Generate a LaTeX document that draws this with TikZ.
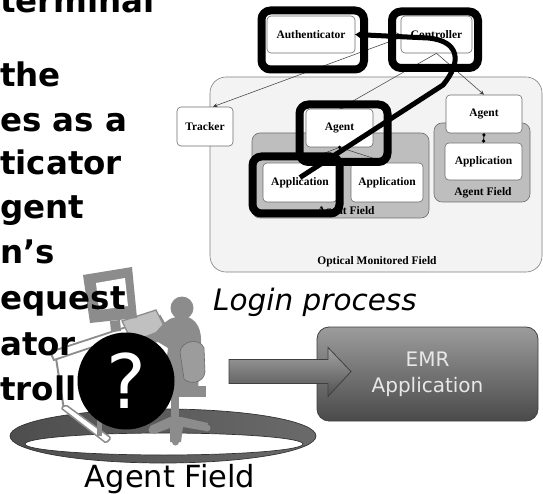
\documentclass[tikz,border=0pt]{standalone}
\usepackage{fontspec}
\setmainfont{DejaVu Sans}
\newfontfamily\diagserif{Liberation Serif}
\usetikzlibrary{arrows.meta,calc}

\definecolor{silgray}{HTML}{8C8C8C}
\definecolor{chairgray}{HTML}{9C9C9C}
\definecolor{fieldgray}{HTML}{BEBEBE}
\definecolor{outergray}{HTML}{F3F3F3}
\definecolor{edgegray}{HTML}{6E6E6E}
\definecolor{emrtop}{HTML}{9C9C9C}
\definecolor{emrbot}{HTML}{4A4A4A}
\definecolor{emrtext}{HTML}{E8E8E8}
\definecolor{arrowtop}{HTML}{A4A4A4}
\definecolor{arrowbot}{HTML}{505050}
\definecolor{ringdark}{HTML}{4E4E4E}
\definecolor{ringlight}{HTML}{C6C6C6}
\definecolor{ringmid}{HTML}{6A6A6A}

\begin{document}
\begin{tikzpicture}[x=1pt,y=-1pt,
  box/.style={draw=edgegray, fill=white, rounded corners=4pt, line width=0.6pt, inner sep=0pt,
    font=\diagserif\bfseries\fontsize{11.5}{13}\selectfont},
  agentfield/.style={draw=edgegray, fill=fieldgray, rounded corners=8pt, line width=0.6pt, inner sep=0pt},
  monitored/.style={draw=gray, fill=outergray, rounded corners=16pt, line width=0.6pt, inner sep=0pt},
  fieldlabel/.style={inner sep=0pt, font=\diagserif\bfseries\fontsize{11.5}{13}\selectfont},
  hilite/.style={draw=black, line width=8pt, rounded corners=9pt, inner sep=0pt},
  conn/.style={draw=black!75, line width=0.55pt, -{Stealth[length=4.5pt,width=4pt]}},
  link/.style={draw=black!75, line width=0.55pt},
  flow/.style={draw=black, line width=5pt, -{Triangle[length=9pt,width=12pt]}},
  slide/.style={anchor=base west, inner sep=0pt, font=\bfseries\fontsize{32.5}{39}\selectfont},
]
\useasboundingbox (0,0) rectangle (543,494);
\clip (0,0) rectangle (543,494);
\fill[white] (0,0) rectangle (543,494);

% ---------- system diagram ----------
\node[monitored, minimum width=332pt, minimum height=195pt] (optical) at (376,174.5) {};
\node[fieldlabel] (opticallabel) at (377,262) {Optical Monitored Field};

\node[agentfield, minimum width=177pt, minimum height=85pt] (midfield) at (340.5,175.5) {};
\node[fieldlabel] (midfieldlabel) at (346,212) {Agent Field};
\node[agentfield, minimum width=96pt, minimum height=79pt] (rightfield) at (482,162.5) {};
\node[fieldlabel] (rightfieldlabel) at (483,193) {Agent Field};

\node[box, minimum width=88pt, minimum height=37pt] (auth) at (311,34.5) {Authenticator};
\node[box, minimum width=71pt, minimum height=37pt] (ctrl) at (436.5,34.5) {Controller};
\node[box, minimum width=56pt, minimum height=39pt] (tracker) at (205,126.5) {Tracker};
\node[box, minimum width=67pt, minimum height=38pt] (agent1) at (339.5,128) {Agent};
\node[box, minimum width=74pt, minimum height=39pt] (app1) at (300,182.5) {Application};
\node[box, minimum width=72pt, minimum height=39pt] (app2) at (387,182.5) {Application};
\node[box, minimum width=76pt, minimum height=38pt] (agent2) at (484,114) {Agent};
\node[box, minimum width=77pt, minimum height=37pt] (app3) at (483.5,161.5) {Application};

% thin connectors
\draw[conn] (auth.east) -- (ctrl.west);
\draw[conn] ([yshift=-3pt]ctrl.west) -- ([xshift=8pt]tracker.north);
\draw[conn] (ctrl.south) -- (agent1.north);
\draw[conn] (ctrl.south) -- (agent2.north);
\draw[link] (agent1.south) -- (app1.north);
\draw[link] (agent1.south) -- (app2.north);
\fill[black] (agent1.south) circle (1.8pt);
\draw[black, line width=0.9pt, {Circle[length=3.2pt]}-{Circle[length=3.2pt]}] (agent2.south) -- (app3.north);

% highlighted components of the login process
\node[hilite, minimum width=102.5pt, minimum height=59pt] (hauth) at (312.75,40) {};
\node[hilite, minimum width=86pt, minimum height=56.5pt] (hctrl) at (435,39.75) {};
\node[hilite, minimum width=88pt, minimum height=57.5pt] (hagent) at (343.5,133.25) {};
\node[hilite, minimum width=87pt, minimum height=57pt] (happ) at (296,185) {};

\coordinate (flowstart) at ([yshift=5pt]app1.center);
\draw[flow] (flowstart) -- (443,85) .. controls (462,62) and (460,41) .. (428,38) -- (auth.east);

\node[anchor=base west, inner sep=0pt, font=\itshape\fontsize{29.5}{34}\selectfont] (caption) at (213,310) {Login process};

% ---------- EMR application ----------
\node[draw=black!75, line width=0.8pt, rounded corners=12pt, top color=emrtop, bottom color=emrbot,
      minimum width=221pt, minimum height=94pt, inner sep=0pt] (emr) at (427.5,374) {};
\node[text=emrtext, align=center, inner sep=0pt, font=\fontsize{20}{26}\selectfont] (emrlabel) at (emr.center) {EMR\\Application};

\shadedraw[top color=arrowtop, bottom color=arrowbot, draw=black!75, line width=0.8pt]
  (229,359.5) -- (328,359.5) -- (328,347.5) -- (351,371.5) -- (328,396.5) -- (328,383.5) -- (229,383.5) -- cycle;

% ---------- agent field ring ----------
\shade[even odd rule, left color=ringdark, middle color=ringlight, right color=ringmid]
  (163,436) ellipse [x radius=153pt, y radius=27pt]
  (164,444) ellipse [x radius=139pt, y radius=11pt];
\draw[black!80, line width=0.7pt] (163,436) ellipse [x radius=153pt, y radius=27pt];
\draw[black!80, line width=0.7pt] (164,444) ellipse [x radius=139pt, y radius=11pt];

% ---------- workstation user ----------
% desk legs
\draw[silgray, line width=2pt] (56,358) -- (64,410);
\filldraw[fill=white, draw=silgray, line width=1.5pt, rounded corners=1.5pt]
  (61,408) -- (66,405) -- (111,438) -- (106,443) -- cycle;
\fill[silgray] (97,390) rectangle (101.5,436);
% desk top and keyboard
\filldraw[fill=white, draw=silgray, line width=1.8pt] (50,352) -- (160,316) -- (164,323) -- (54,360) -- cycle;
\filldraw[fill=silgray!55!white, draw=silgray, line width=1.3pt] (122,321) -- (156,310) -- (166,330) -- (132,342) -- cycle;
% monitor
\fill[silgray] (83,275) -- (132,267) -- (137,318) -- (90,323) -- cycle;
\fill[white] (96,283) -- (125,278) -- (128,306) -- (99,310) -- cycle;
\fill[silgray] (110,321) -- (120,320) -- (121,331) -- (111,332) -- cycle;
% person
\fill[silgray] (182,308) circle (11.5pt);
\fill[silgray] (176,317) -- (188,317) .. controls (200,322) and (203,335) .. (200,352)
  -- (198,392) -- (158,396) -- (150,386) -- (165,372) -- (168,348) -- (158,342)
  -- (142,346) -- (138,339) -- (156,332) .. controls (164,322) and (170,318) .. (176,317) -- cycle;
% chair
\filldraw[fill=chairgray, draw=silgray!75!black, line width=0.6pt]
  (180,352) .. controls (181,341) and (200,337) .. (204,348) -- (205,372)
  .. controls (204,383) and (190,385) .. (184,379) -- cycle;
\fill[silgray] (168,386) rectangle (206,397);
\fill[silgray] (171,397) rectangle (179,421);
\fill[silgray] (150,426) -- (170,417) -- (181,417) -- (208,423) -- (206,431) -- (183,427)
  -- (181,442) -- (170,442) -- (170,428) -- (154,434) -- cycle;
\fill[silgray] (152,430) circle (3.5pt) (207,428) circle (3.5pt) (175.5,442) circle (3.5pt);

% ---------- slide text ----------
\node[slide] (line1) at (0,13) {terminal};
\node[slide] (line2) at (0,87) {the};
\node[slide] (line3) at (0,132) {es as a};
\node[slide] (line4) at (0,175) {ticator};
\node[slide] (line5) at (0,219) {gent};
\node[slide] (line6) at (0,264) {n’s};
\node[slide] (line7) at (0,309) {equest};
\node[slide] (line8) at (0,355) {ator};
\node[slide] (line9) at (0,400) {troll};

% unknown user marker
\node[circle, fill=black, minimum size=97pt, inner sep=0pt, text=white,
      font=\fontsize{75}{75}\selectfont] (unknown) at (126,381) {?};

\node[anchor=base, inner sep=0pt, font=\fontsize{30.5}{36}\selectfont] (fieldname) at (170,487) {Agent Field};
\end{tikzpicture}
\end{document}
